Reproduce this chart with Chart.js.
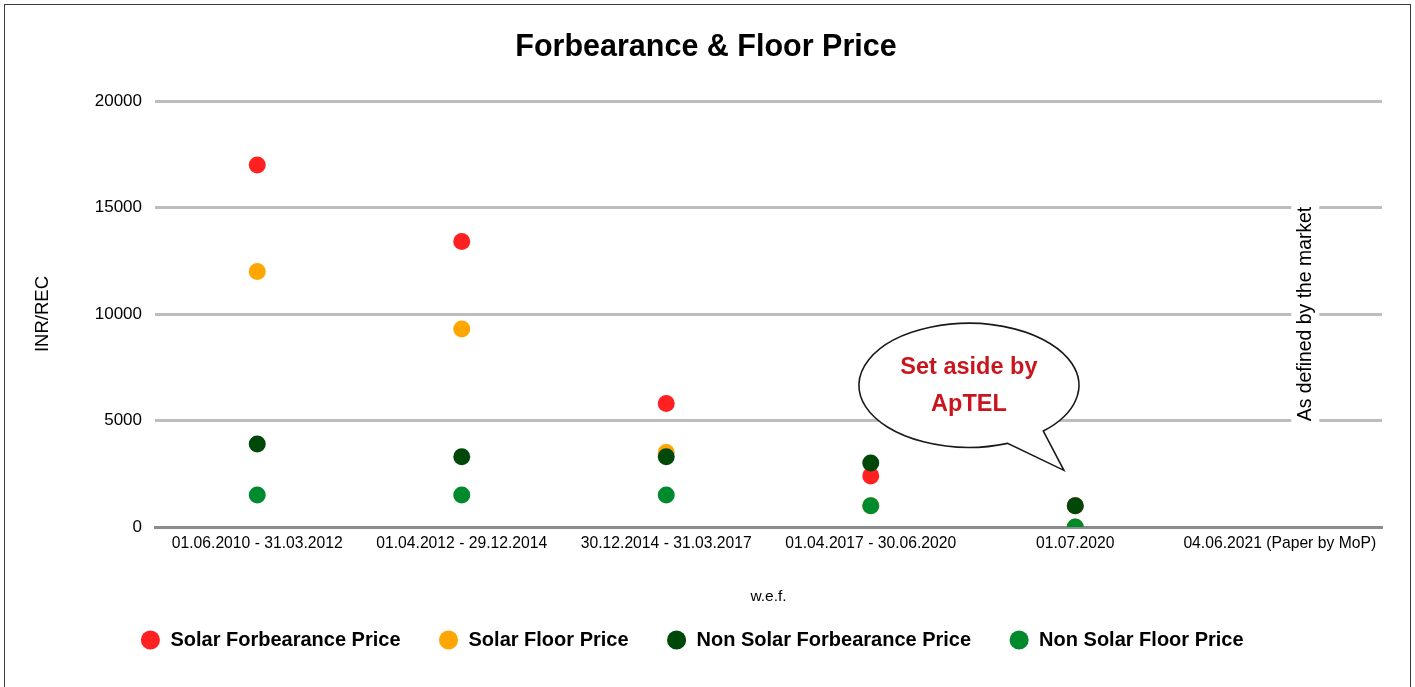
<!DOCTYPE html>
<html>
<head>
<meta charset="utf-8">
<title>Forbearance &amp; Floor Price</title>
<script src="https://cdn.jsdelivr.net/npm/chart.js@4.4.0/dist/chart.umd.min.js"></script>
<style>
  html, body { margin: 0; padding: 0; background: #ffffff; }
  #wrap { position: relative; width: 1415px; height: 687px; overflow: hidden; }
  #chart { position: absolute; left: 0; top: 0; }
  #frame {
    position: absolute; left: 4px; top: 4px; width: 1407px; height: 700px;
    border: 1.5px solid #3a3a3a; box-sizing: border-box; pointer-events: none;
  }
</style>
</head>
<body>
<div id="wrap">
  <canvas id="chart" width="1415" height="687"></canvas>
  <div id="frame"></div>
</div>
<script>
// Periods (w.e.f.) on the category axis
const periods = [
  '01.06.2010 - 31.03.2012',
  '01.04.2012 - 29.12.2014',
  '30.12.2014 - 31.03.2017',
  '01.04.2017 - 30.06.2020',
  '01.07.2020',
  '04.06.2021 (Paper by MoP)'
];

// Prices in INR/REC for each period
const solarForbearance    = [17000, 13400, 5800, 2400, 1000, null];
const solarFloor          = [12000,  9300, 3500, 1000,    0, null];
const nonSolarForbearance = [ 3900,  3300, 3300, 3000, 1000, null];
const nonSolarFloor       = [ 1500,  1500, 1500, 1000,    0, null];

// Value axis ticks
const yTicks = [0, 5000, 10000, 15000, 20000];

// Notes drawn on the plot
const calloutLines = ['Set aside by', 'ApTEL'];
const marketNote = 'As defined by the market';

const FONT = '"Liberation Sans", Arial, sans-serif';

const series = [
  { label: 'Solar Forbearance Price',     data: solarForbearance,    color: '#ff2121', order: 4 },
  { label: 'Solar Floor Price',           data: solarFloor,          color: '#ffa600', order: 3 },
  { label: 'Non Solar Forbearance Price', data: nonSolarForbearance, color: '#00470a', order: 2 },
  { label: 'Non Solar Floor Price',       data: nonSolarFloor,       color: '#008a2e', order: 1 }
];

// Nudge the legend row slightly left of the canvas centre
const legendShift = {
  id: 'legendShift',
  afterLayout(chart) {
    const lg = chart.legend;
    if (lg) { lg.left -= 14; lg.right -= 14; }
  }
};

// Callout bubble and the vertical note beside the last period
const notesPlugin = {
  id: 'notes',
  afterDraw(chart) {
    const { ctx, scales: { x, y } } = chart;
    const step = x.getPixelForValue(1) - x.getPixelForValue(0);

    // vertical note with a white backing over the grid
    const nx = x.getPixelForValue(5) + step * 0.125;
    const ny = y.getPixelForValue(10000);
    ctx.save();
    ctx.translate(nx, ny);
    ctx.rotate(-Math.PI / 2);
    ctx.font = '19.4px ' + FONT;
    const w = ctx.measureText(marketNote).width;
    ctx.fillStyle = '#ffffff';
    ctx.fillRect(-w / 2 - 4, -14, w + 8, 28);
    ctx.fillStyle = '#000000';
    ctx.textAlign = 'center';
    ctx.textBaseline = 'middle';
    ctx.fillText(marketNote, 0, 0);
    ctx.restore();

    // speech bubble between the 2017 and 2020 periods
    const cx = x.getPixelForValue(3) + step * 0.48;
    const cy = y.getPixelForValue(6650);
    const rx = 110, ry = 62;
    const b1 = { x: 75, y: 46 };   // tail base, right side
    const b2 = { x: 40, y: 60 };   // tail base, left side
    const tip = { x: 95, y: 85 };
    const t1 = Math.atan2(b1.y / ry, b1.x / rx);
    const t2 = Math.atan2(b2.y / ry, b2.x / rx);
    ctx.save();
    ctx.beginPath();
    ctx.ellipse(cx, cy, rx, ry, 0, t2, t1 + Math.PI * 2, false);
    ctx.lineTo(cx + tip.x, cy + tip.y);
    ctx.closePath();
    ctx.fillStyle = '#ffffff';
    ctx.fill();
    ctx.lineWidth = 1.6;
    ctx.strokeStyle = '#1a1a1a';
    ctx.stroke();
    ctx.fillStyle = '#c8161e';
    ctx.font = 'bold 23.5px ' + FONT;
    ctx.textAlign = 'center';
    ctx.textBaseline = 'middle';
    ctx.fillText(calloutLines[0], cx, cy - 18);
    ctx.fillText(calloutLines[1], cx, cy + 19);
    ctx.restore();
  }
};

new Chart(document.getElementById('chart'), {
  type: 'line',
  data: {
    labels: periods,
    datasets: series.map(s => ({
      label: s.label,
      data: s.data,
      order: s.order,
      showLine: false,
      pointStyle: 'circle',
      pointRadius: 8.5,
      pointHoverRadius: 8.5,
      pointBackgroundColor: s.color,
      pointBorderColor: s.color,
      pointBorderWidth: 0,
      backgroundColor: s.color,
      borderColor: s.color,
      borderWidth: 0,
      clip: { left: false, right: false, top: false, bottom: 0 }
    }))
  },
  options: {
    responsive: false,
    animation: false,
    devicePixelRatio: 1,
    layout: { padding: { left: 30, right: 33, top: 0, bottom: 27 } },
    plugins: {
      title: {
        display: true,
        text: 'Forbearance & Floor Price',
        color: '#000000',
        font: { family: FONT, size: 30.5, weight: 'bold', lineHeight: 1.2 },
        padding: { top: 29.7, bottom: 34.7 }
      },
      legend: {
        display: true,
        position: 'bottom',
        labels: {
          usePointStyle: true,
          boxWidth: 20,
          boxHeight: 13.5,
          padding: 38,
          color: '#000000',
          font: { family: FONT, size: 20, weight: 'bold' },
          sort: (a, b) => a.datasetIndex - b.datasetIndex
        }
      },
      tooltip: { enabled: false }
    },
    scales: {
      x: {
        type: 'category',
        offset: true,
        afterFit: s => { s.height = 65; },
        grid: { display: false, drawTicks: false },
        border: { display: true, color: '#8c8c8c', width: 3 },
        ticks: {
          color: '#000000',
          font: { family: FONT, size: 15.7 },
          padding: 7,
          maxRotation: 0,
          autoSkip: false
        },
        title: {
          display: true,
          text: 'w.e.f.',
          color: '#000000',
          font: { family: FONT, size: 15.5 },
          padding: { top: 0, bottom: -14 }
        }
      },
      y: {
        min: 0,
        max: 20000,
        afterFit: s => { s.width = 125; },
        afterBuildTicks: s => { s.ticks = yTicks.map(v => ({ value: v })); },
        grid: { color: '#bdbdbd', lineWidth: 3, drawTicks: false },
        border: { display: false },
        ticks: {
          color: '#000000',
          font: { family: FONT, size: 17 },
          padding: 13,
          callback: v => String(v)
        },
        title: {
          display: true,
          text: 'INR/REC',
          color: '#000000',
          font: { family: FONT, size: 18.5 },
          padding: { top: 2, bottom: 0 }
        }
      }
    }
  },
  plugins: [legendShift, notesPlugin]
});
</script>
</body>
</html>
